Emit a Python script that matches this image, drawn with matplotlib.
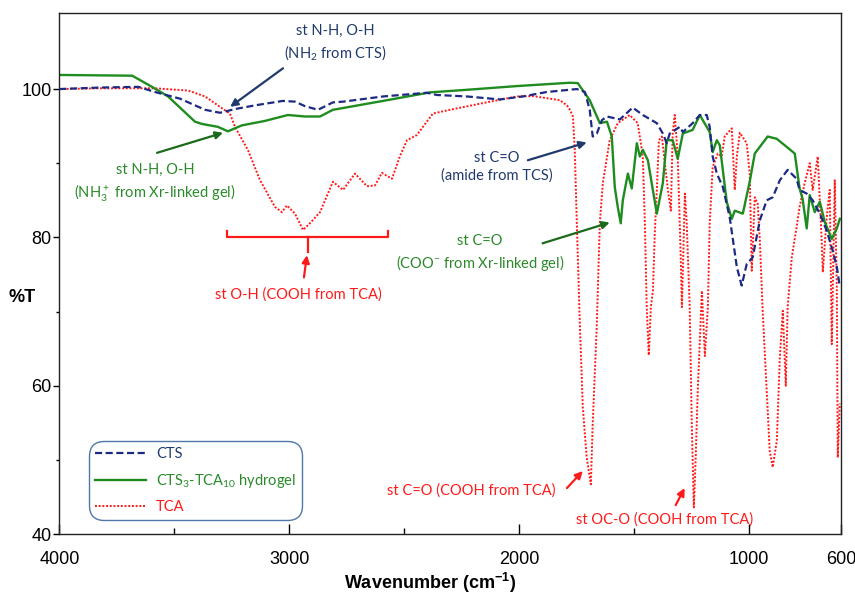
import numpy as np
import matplotlib
matplotlib.use("Agg")
import matplotlib.pyplot as plt

plt.rcParams['font.family'] = ['Liberation Sans', 'DejaVu Sans']
plt.rcParams['mathtext.default'] = 'regular'

# ---------- data ----------
cts_wn = [4000, 3823, 3657, 3584, 3475, 3366, 3301, 3236, 3149, 3028, 2975, 2932, 2875,
          2810, 2766, 2592, 2401, 2358, 2227, 2084, 1984, 1880, 1749, 1714, 1693, 1680,
          1662, 1640, 1618, 1562, 1506, 1462, 1401, 1375, 1358, 1345, 1301, 1288, 1245,
          1214, 1184, 1171, 1158, 1140, 1114, 1084, 1053, 1032, 1010, 984, 953, 923,
          897, 866, 832, 793, 780, 749, 723, 692, 662, 636, 618, 605]
cts_t = [100.0, 100.2, 100.3, 99.6, 98.7, 97.2, 96.8, 97.3, 97.8, 98.4, 98.3, 97.7, 97.2,
         98.2, 98.3, 99.0, 99.5, 99.2, 99.0, 98.6, 99.0, 99.6, 100.0, 99.6, 97.2, 93.6,
         94.0, 95.8, 96.3, 95.9, 97.5, 96.5, 95.4, 94.0, 92.7, 94.0, 94.9, 94.2, 95.4,
         96.5, 96.5, 94.9, 90.9, 88.6, 86.8, 82.7, 76.0, 73.5, 76.4, 77.3, 82.3, 85.0,
         85.4, 87.7, 89.1, 87.9, 86.4, 85.9, 85.0, 83.2, 80.9, 78.2, 76.0, 73.3]

gel_wn = [4000, 3683, 3597, 3527, 3410, 3380, 3310, 3267, 3206, 3106, 3006, 2932, 2866,
          2810, 2592, 2388, 2227, 2010, 1779, 1745, 1693, 1649, 1618, 1597, 1584, 1571,
          1558, 1549, 1527, 1510, 1488, 1475, 1462, 1440, 1401, 1375, 1358, 1332, 1310,
          1288, 1245, 1214, 1171, 1158, 1140, 1127, 1097, 1075, 1062, 1027, 997, 975,
          919, 880, 836, 801, 780, 767, 749, 736, 714, 692, 671, 640, 618, 605]
gel_t = [101.9, 101.8, 100.3, 99.0, 95.6, 95.3, 94.9, 94.3, 95.1, 95.7, 96.5, 96.3, 96.3,
         97.2, 98.4, 99.55, 99.9, 100.4, 100.85, 100.8, 98.5, 95.4, 95.6, 93.6, 86.8, 84.1,
         81.9, 85.0, 88.6, 86.6, 92.7, 90.9, 91.8, 90.4, 83.2, 87.3, 93.1, 93.1, 90.6,
         94.0, 94.5, 96.5, 94.2, 91.5, 93.1, 92.4, 84.8, 82.5, 83.6, 83.2, 87.5, 91.3,
         93.6, 93.3, 92.2, 91.3, 86.6, 85.2, 81.2, 85.7, 83.4, 84.8, 82.1, 79.8, 81.2, 82.5]

tca_wn = [4000, 3823, 3584, 3440, 3366, 3292, 3258, 3236, 3180, 3127, 3062, 3032, 3010,
          2975, 2940, 2910, 2866, 2810, 2766, 2714, 2662, 2627, 2597, 2553, 2519, 2488,
          2445, 2375, 2301, 2158, 2010, 1940, 1823, 1792, 1779, 1766, 1758, 1749, 1736,
          1723, 1706, 1688, 1680, 1662, 1649, 1636, 1606, 1571, 1519, 1484, 1462, 1453,
          1445, 1436, 1427, 1418, 1410, 1401, 1392, 1379, 1366, 1353, 1340, 1332, 1323,
          1310, 1297, 1292, 1279, 1271, 1258, 1249, 1240, 1232, 1223, 1205, 1192, 1179,
          1171, 1158, 1136, 1119, 1106, 1075, 1062, 1053, 1040, 1010, 997, 988, 975,
          962, 953, 940, 923, 910, 897, 879, 866, 853, 840, 832, 814, 793, 780, 758,
          736, 723, 701, 684, 679, 662, 649, 640, 627, 618, 614, 605]
tca_t = [100.0, 100.1, 100.1, 99.8, 99.0, 97.4, 96.7, 94.9, 91.8, 87.7, 84.1, 83.4, 84.3,
         83.2, 81.0, 81.9, 83.4, 87.5, 86.4, 88.6, 86.9, 87.0, 88.7, 87.9, 90.9, 93.1,
         93.8, 96.7, 97.2, 98.1, 99.0, 99.05, 98.5, 97.8, 97.2, 96.3, 91.8, 81.9, 68.4,
         57.1, 50.3, 46.7, 54.8, 68.3, 81.9, 87.3, 93.1, 95.4, 96.5, 95.4, 90.9, 81.9,
         70.6, 64.1, 70.6, 72.8, 80.5, 86.4, 93.1, 93.6, 90.0, 86.4, 83.6, 94.0, 96.5,
         90.9, 77.3, 70.6, 85.9, 81.9, 70.6, 54.8, 43.6, 50.3, 59.3, 72.8, 64.0, 70.6,
         81.9, 89.5, 91.3, 90.9, 93.6, 94.7, 86.4, 90.9, 94.1, 92.7, 88.6, 75.5, 85.4,
         84.5, 79.6, 69.7, 59.3, 51.2, 49.0, 52.6, 63.8, 70.1, 60.0, 70.6, 77.3, 81.4, 84.1, 87.3,
         90.0, 86.4, 90.9, 79.6, 75.3, 82.7, 86.4, 65.6, 87.7, 72.8, 50.3, 57.6]

x_major = [4000, 3000, 2000, 1000, 600]
x_minor = [3500, 2500, 1500]
y_major = [40, 60, 80, 100]
y_minor = [50, 70, 90]

NAVY = '#1c2a84'
NAVY_TXT = '#203a6e'
GREEN = '#1f8c1f'
GREEN_TXT = '#2a8a2a'
GREEN_ARR = '#1b6a1b'
RED = '#ff1a1a'

fig = plt.figure(figsize=(8.55, 5.97), dpi=100)
ax = fig.add_axes([0.0694, 0.1055, 0.9142, 0.8733])

ax.plot(cts_wn, cts_t, color=NAVY, lw=1.6, ls=(0, (3.2, 1.6)), label='CTS', zorder=3)
ax.plot(gel_wn, gel_t, color=GREEN, lw=1.7, label='CTS$_3$-TCA$_{10}$ hydrogel', zorder=2)
ax.plot(tca_wn, tca_t, color=RED, lw=1.4, ls=(0, (1, 0.9)), label='TCA', zorder=1)

ax.set_xlim(4000, 600)
ax.set_ylim(40, 110.3)
ax.set_xticks(x_major)
ax.set_xticks(x_minor, minor=True)
ax.set_yticks(y_major)
ax.set_yticks(y_minor, minor=True)
ax.tick_params(axis='x', which='major', direction='in', length=7, width=1, labelsize=13, pad=12)
ax.tick_params(axis='x', which='minor', direction='in', length=4, width=1)
ax.tick_params(axis='y', which='major', direction='out', length=4, width=1, labelsize=13, pad=1.5)
ax.tick_params(axis='y', which='minor', direction='out', length=2, width=1)
for s in ax.spines.values():
    s.set_linewidth(1.0)
    s.set_color('#222222')

ax.set_xlabel('Wavenumber (cm$^{-1}$)', fontsize=13, fontweight='bold', va='center')
ax.xaxis.set_label_coords(0.474, -0.094)
ax.set_ylabel('%T', fontsize=13, fontweight='bold', rotation=0, va='center', ha='center')
ax.yaxis.set_label_coords(-0.048, 0.453)

afont = ['Lato', 'DejaVu Sans']
fs = 10.5


def note(txt, xy_text, xy_head, tcolor, acolor, tail=None):
    ax.text(*xy_text, txt, color=tcolor, fontsize=fs, family=afont, ha='center', va='center',
            linespacing=1.35)
    ax.annotate('', xy=xy_head, xytext=tail,
                arrowprops=dict(arrowstyle='-|>', color=acolor, lw=1.6, mutation_scale=11,
                                shrinkA=0, shrinkB=0))


note('st N-H, O-H\n(NH$_2$ from CTS)', (2801, 106.2), (3257, 97.6), NAVY_TXT, NAVY_TXT, (3027, 102.8))
note('st N-H, O-H\n(NH$_3^+$ from Xr-linked gel)', (3583, 87.3), (3288, 94.1), GREEN_TXT, GREEN_ARR, (3575, 91.4))
note('st C=O\n(amide from TCS)', (2097, 89.5), (1706, 92.8), NAVY_TXT, NAVY_TXT, (1962, 90.4))
note('st C=O\n(COO$^{-}$ from Xr-linked gel)', (2171, 77.8), (1606, 82.0), GREEN_TXT, GREEN_ARR, (1898, 79.2))
note('st C=O (COOH from TCA)', (2210, 45.9), (1723, 48.5), RED, RED, (1792, 46.2))
note('st OC-O (COOH from TCA)', (1367, 41.9), (1280, 46.2), RED, RED, (1319, 43.9))
note('st O-H (COOH from TCA)', (2960, 72.3), (2923, 77.6), RED, RED, (2936, 74.6))

# bracket over the broad O-H band
ax.plot([3271, 3271, 2571, 2571], [80.9, 80.0, 80.0, 80.9], color=RED, lw=1.6, zorder=4)
ax.plot([2918, 2918], [80.0, 78.0], color=RED, lw=1.6, zorder=4)

leg = ax.legend(loc='lower left', bbox_to_anchor=(0.038, 0.027), borderaxespad=0,
                prop={'family': afont, 'size': fs}, handlelength=3.5,
                handletextpad=0.7, labelspacing=0.72, borderpad=0.4, fancybox=True,
                framealpha=1, edgecolor='#4f78a8')
leg.get_frame().set_linewidth(1.0)
leg.get_frame().set_boxstyle('round', pad=0, rounding_size=1.0)
for t, c in zip(leg.get_texts(), [NAVY_TXT, GREEN_TXT, RED]):
    t.set_color(c)

fig.savefig('out.png', dpi=100, facecolor='white')
